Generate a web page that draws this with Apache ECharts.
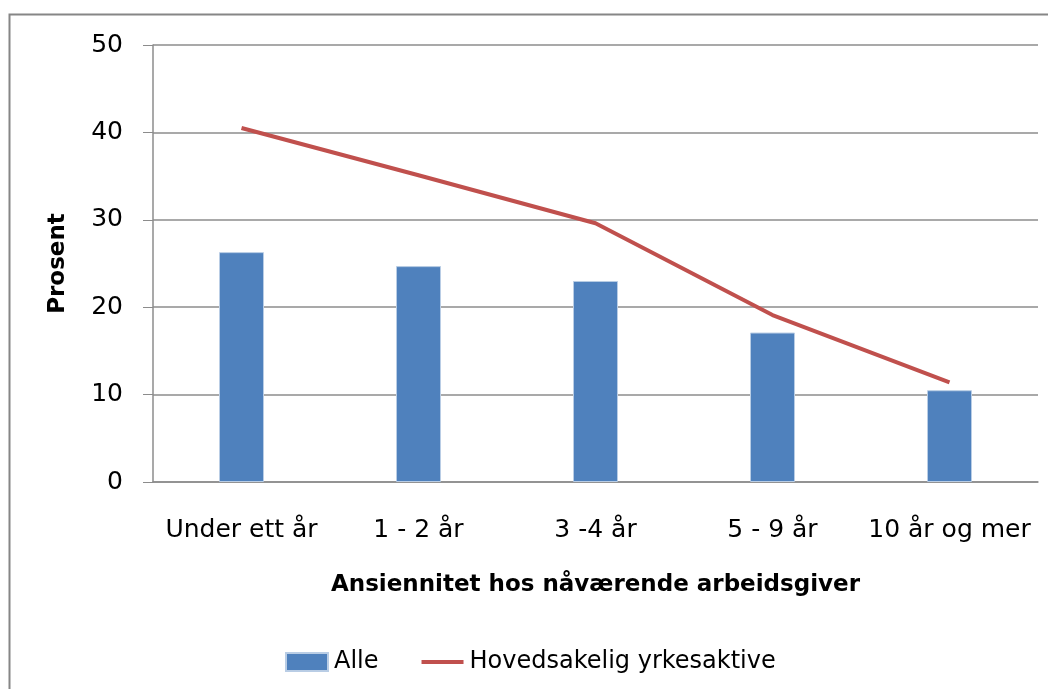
<!DOCTYPE html>
<html>
<head>
<meta charset="utf-8">
<script src="https://cdn.jsdelivr.net/npm/echarts@6/dist/echarts.min.js"></script>
<style>
    html, body {margin: 0; padding: 0; background: #fff;}
    #chart {width: 1048px; height: 689px;}
</style>
</head>
<body>
<div id="chart"></div>
<script>
const categories = ['Under ett år', '1 - 2 år', '3 -4 år', '5 - 9 år', '10 år og mer'];
const alle = [26.3, 24.7, 23.0, 17.1, 10.5];
const yrkesaktive = [40.5, 35.1, 29.6, 19.1, 11.4];
const yTicks = [0, 10, 20, 30, 40, 50];

const font = '"DejaVu Sans", "Noto Sans", sans-serif';
const grey = '#8c8c8c';

const chart = echarts.init(document.getElementById('chart'), null, {renderer: 'canvas'});
chart.setOption({
    animation: false,
    textStyle: {fontFamily: font, color: '#000'},
    graphic: [{
        type: 'rect',
        shape: {x: 9.5, y: 14.5, width: 1100, height: 700},
        style: {fill: 'none', stroke: '#868686', lineWidth: 2},
        silent: true,
    }],
    grid: {left: 153, right: 10, top: 45, bottom: 207},
    legend: {
        top: 645,
        left: 280,
        itemGap: 43,
        itemWidth: 42,
        itemHeight: 18,
        textStyle: {fontSize: 24, fontFamily: font, color: '#000', padding: [0, 0, 0, 1]},
        data: [
            {name: 'Alle', icon: 'rect'},
            {name: 'Hovedsakelig yrkesaktive', icon: 'path://M0,0 L42,0 L42,4 L0,4 Z'},
        ],
    },
    xAxis: {
        type: 'category',
        data: categories,
        name: 'Ansiennitet hos nåværende arbeidsgiver',
        nameLocation: 'middle',
        nameGap: 92,
        nameTextStyle: {fontSize: 23, fontWeight: 'bold', color: '#000', fontFamily: font},
        axisLine: {lineStyle: {color: grey, width: 1.5}},
        axisTick: {show: false},
        axisLabel: {fontSize: 25, color: '#000', margin: 36, interval: 0},
    },
    yAxis: {
        type: 'value',
        min: yTicks[0],
        max: yTicks[yTicks.length - 1],
        interval: 10,
        name: 'Prosent',
        nameLocation: 'middle',
        nameGap: 83,
        nameRotate: 90,
        nameTextStyle: {fontSize: 23, fontWeight: 'bold', color: '#000', fontFamily: font},
        axisLine: {show: true, lineStyle: {color: grey, width: 1.5}},
        axisTick: {show: true, length: 10, inside: false, lineStyle: {color: grey}},
        axisLabel: {fontSize: 25, color: '#000', margin: 30},
        splitLine: {lineStyle: {color: grey, width: 1.5}},
    },
    series: [{
        name: 'Alle',
        type: 'bar',
        data: alle,
        barWidth: 45,
        itemStyle: {color: '#4f81bd', borderColor: '#b9cde5', borderWidth: 1},
    }, {
        name: 'Hovedsakelig yrkesaktive',
        type: 'line',
        data: yrkesaktive,
        showSymbol: false,
        symbol: 'none',
        lineStyle: {color: '#c0504d', width: 4},
        itemStyle: {color: '#c0504d'},
    }],
});
</script>
</body>
</html>
